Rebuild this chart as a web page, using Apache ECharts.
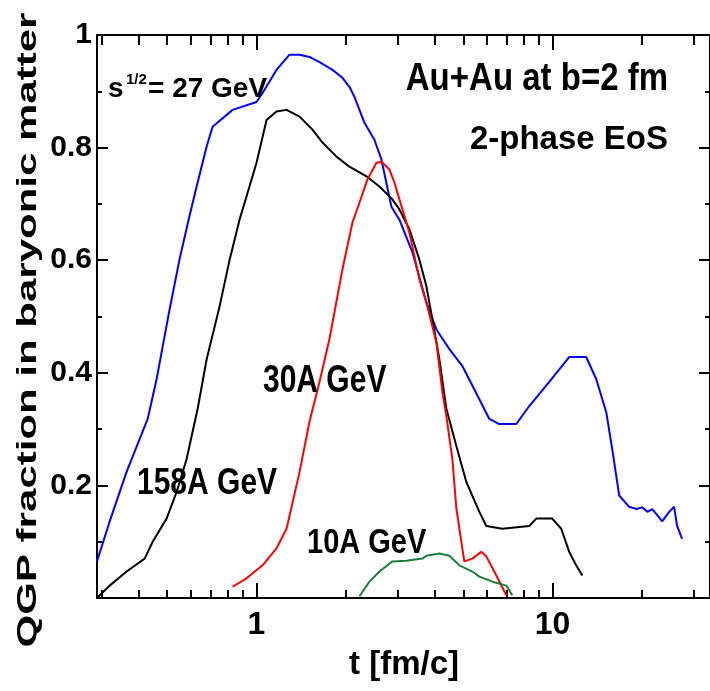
<!DOCTYPE html>
<html>
<head>
<meta charset="utf-8">
<script src="https://cdn.jsdelivr.net/npm/echarts@6/dist/echarts.min.js"></script>
<style>
html,body{margin:0;padding:0;background:#fff;}
#chart{width:710px;height:691px;}
</style>
</head>
<body>
<div id="chart"></div>
<script>
// ---- data (t in fm/c, QGP fraction) ----
const xMajorTicks = [1, 10];
const xMinorTicks = [0.3,0.4,0.5,0.6,0.7,0.8,0.9,2,3,4,5,6,7,8,9,20,30];

const blueT = [0.290,0.320,0.365,0.430,0.461,0.510,0.551,0.591,0.629,0.680,0.712,0.832,1.002,1.050,1.170,1.295,1.400,1.512,1.635,1.808,1.954,2.063,2.145,2.318,2.505,2.645,2.859,3.042,3.366,3.751,4.055,4.485,4.962,5.662,6.118,6.613,7.545,8.348,9.747,11.38,12.99,14.04,15.18,15.90,16.79,18.14,19.2,20.07,20.9,21.69,22.5,23.44,24.75,25.72,26.33,27.37];
const blueY = [0.065,0.136,0.224,0.318,0.389,0.513,0.602,0.672,0.731,0.802,0.837,0.867,0.881,0.897,0.938,0.965,0.965,0.961,0.952,0.938,0.924,0.908,0.890,0.844,0.814,0.779,0.695,0.672,0.614,0.525,0.477,0.442,0.412,0.353,0.318,0.309,0.309,0.341,0.384,0.428,0.428,0.389,0.330,0.265,0.182,0.162,0.158,0.161,0.153,0.158,0.148,0.136,0.153,0.162,0.128,0.105];

const blackT = [0.290,0.320,0.365,0.420,0.447,0.498,0.539,0.582,0.634,0.680,0.752,0.813,0.878,0.927,1.002,1.083,1.170,1.265,1.400,1.548,1.673,1.865,2.063,2.355,2.604,2.881,3.042,3.287,3.553,3.751,3.930,4.150,4.381,4.735,5.117,5.662,5.977,6.768,8.348,8.812,9.977,10.70,11.38,12.02,12.60];
const blackY = [0.000,0.022,0.047,0.070,0.100,0.141,0.189,0.247,0.336,0.424,0.518,0.601,0.672,0.713,0.773,0.849,0.864,0.867,0.855,0.832,0.809,0.784,0.766,0.749,0.731,0.708,0.690,0.655,0.601,0.554,0.495,0.424,0.336,0.270,0.206,0.153,0.128,0.123,0.128,0.141,0.141,0.123,0.082,0.058,0.040];

const redT = [0.832,0.927,1.050,1.170,1.265,1.295,1.400,1.512,1.635,1.766,1.954,2.112,2.230,2.371,2.545,2.645,2.815,2.926,3.042,3.212,3.287,3.553,3.751,4.055,4.247,4.381,4.590,4.735,4.922,5.037,5.361,5.748,5.977,6.460,6.982];
const redY = [0.020,0.035,0.058,0.088,0.123,0.146,0.224,0.313,0.384,0.460,0.584,0.667,0.702,0.743,0.773,0.775,0.761,0.738,0.708,0.667,0.649,0.566,0.525,0.454,0.366,0.323,0.247,0.159,0.100,0.065,0.070,0.082,0.074,0.040,0.005];

const greenT = [2.230,2.410,2.604,2.881,3.212,3.637,3.751,4.150,4.485,4.847,5.361,5.662,6.262,6.982,7.313];
const greenY = [0.003,0.029,0.047,0.065,0.066,0.070,0.075,0.079,0.075,0.058,0.047,0.038,0.029,0.022,0.005];

const seriesNames = ['s^1/2 = 27 GeV', '158A GeV', '30A GeV', '10A GeV'];
const seriesColors = ['#0000ff', '#000000', '#ff0000', '#1b7f3b'];

function pairs(t, y) { return t.map((v, i) => [v, y[i]]); }
const seriesData = [pairs(blueT, blueY), pairs(blackT, blackY), pairs(redT, redY), pairs(greenT, greenY)];

const FF = '"Liberation Sans", Arial, Helvetica, sans-serif';
const XMIN = 0.29, XMAX = 34;

function xAx(pos, ticks, len, line, labels) {
  return {
    type: 'log', logBase: 10, position: pos, min: XMIN, max: XMAX,
    axisLine: { show: line, onZero: false, lineStyle: { color: '#000', width: 2 } },
    axisTick: { show: true, inside: true, length: len, customValues: ticks, lineStyle: { color: '#000', width: 2 } },
    axisLabel: labels ? { show: true, customValues: xMajorTicks, margin: 11, color: '#000', fontFamily: FF, fontWeight: 'bold', fontSize: 32, formatter: v => String(v) } : { show: false },
    splitLine: { show: false }, minorTick: { show: false }
  };
}
function yAx(pos, labels) {
  return {
    type: 'value', position: pos, min: 0, max: 1, interval: 0.2,
    axisLine: { show: true, onZero: false, lineStyle: { color: '#000', width: 2 } },
    axisTick: { show: true, inside: true, length: 11, lineStyle: { color: '#000', width: 2 } },
    minorTick: { show: true, splitNumber: 2, length: 5, lineStyle: { color: '#000', width: 2 } },
    axisLabel: labels ? { show: true, margin: 5, color: '#000', fontFamily: FF, fontWeight: 'bold', fontSize: 30, formatter: v => (v === 0 ? '' : String(v)) } : { show: false },
    splitLine: { show: false }
  };
}

function txt(text, x, y, size, opts) {
  opts = opts || {};
  return {
    type: 'text', x: x, y: y, rotation: opts.rotation || 0,
    scaleX: opts.sx || 1, scaleY: opts.sy || 1, silent: true, z: 10,
    style: {
      text: text, fill: '#000', font: 'bold ' + size + 'px ' + FF,
      align: opts.align || 'left', verticalAlign: 'middle',
      textAlign: opts.align || 'left', textVerticalAlign: 'middle'
    }
  };
}

const chart = echarts.init(document.getElementById('chart'), null, { renderer: 'canvas' });
chart.setOption({
  animation: false,
  backgroundColor: '#fff',
  grid: { left: 97, right: -1, top: 35, bottom: 93, containLabel: false },
  xAxis: [
    xAx('bottom', xMajorTicks, 15, true, true),
    xAx('top', xMajorTicks, 15, true, false),
    xAx('bottom', xMinorTicks, 8, false, false),
    xAx('top', xMinorTicks, 10, false, false)
  ],
  yAxis: [yAx('left', true), yAx('right', false)],
  series: seriesData.map((d, i) => ({
    name: seriesNames[i], type: 'line', data: d, xAxisIndex: 0, yAxisIndex: 0,
    showSymbol: false, symbol: 'none', smooth: false, clip: true,
    lineStyle: { color: seriesColors[i], width: 2 }, z: 2 + i
  })),
  graphic: [
    txt('QGP fraction in baryonic matter', 28, 330, 28, { rotation: Math.PI / 2, sx: 1.5, align: 'center' }),
    txt('t [fm/c]', 404, 665, 33, { align: 'center' }),
    txt('Au+Au at b=2 fm', 668, 80, 33, { align: 'right', sy: 1.15 }),
    txt('2-phase EoS', 668, 140, 33, { align: 'right' }),
    txt('s', 108, 89, 28),
    txt('1/2', 126, 80, 15),
    txt('= 27 GeV', 148, 89, 28),
    txt('30A GeV', 263, 381, 30, { sy: 1.28 }),
    txt('158A GeV', 137, 484, 30, { sy: 1.25 }),
    txt('10A GeV', 307, 543, 29, { sy: 1.2 })
  ]
});
</script>
</body>
</html>
